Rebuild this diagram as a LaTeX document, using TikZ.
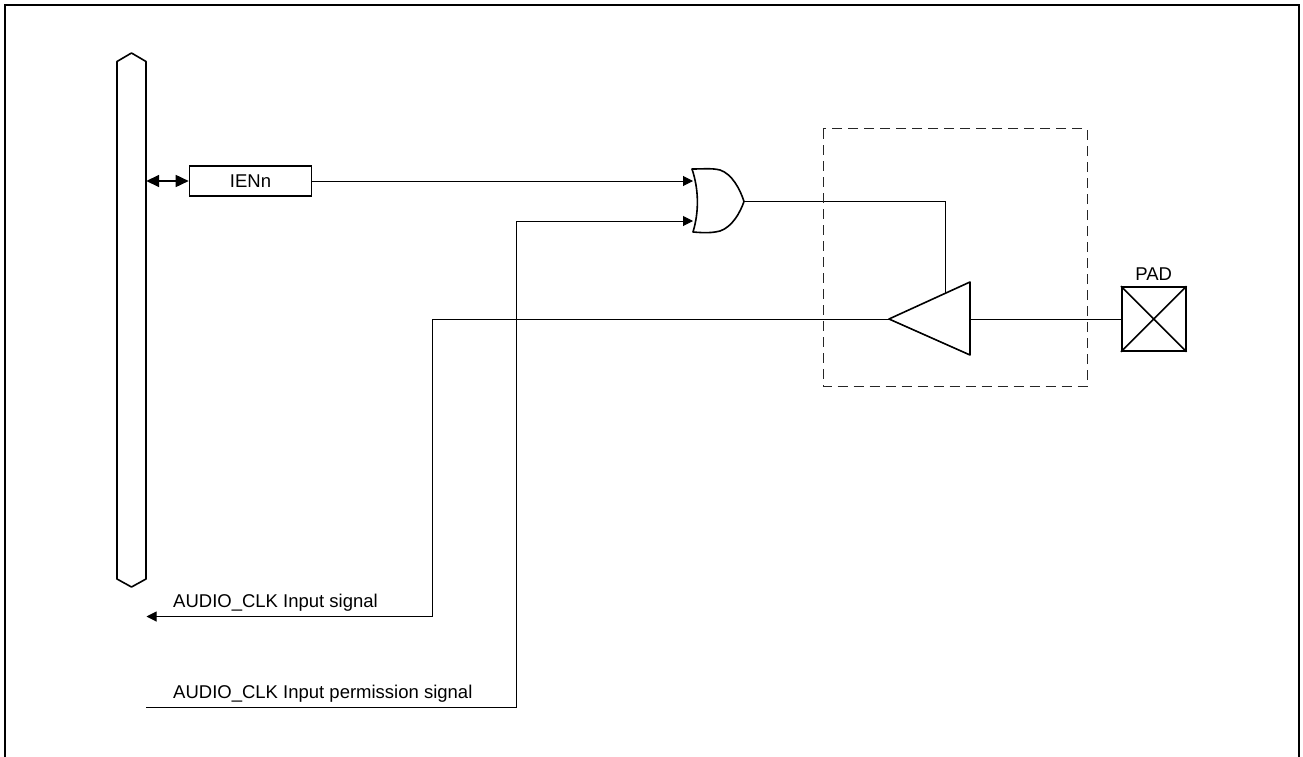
\documentclass[tikz,border=0pt]{standalone}
\usepackage{fontspec}
\setmainfont{Liberation Sans}
\usetikzlibrary{arrows.meta, positioning}
\tikzset{sig/.style={inner sep=0pt,font=\fontsize{18.5pt}{20pt}\selectfont},regbox/.style={sig,rectangle,draw,line width=1.6pt,align=center,minimum width=122pt,minimum height=30pt},padbox/.style={rectangle,draw,line width=1.6pt,inner sep=0pt,minimum size=64pt},line/.style={line width=1pt,-{Triangle[length=10pt,width=10pt]}},wire/.style={line width=1pt},outline/.style={line width=1.6pt,line join=round}}

\begin{document}
\begin{tikzpicture}[x=1pt,y=-1pt]
\useasboundingbox (0,0) rectangle (1303,757);
\draw[line width=2pt] (5,757) -- (5,5) -- (1299,5) -- (1299,757);
% bus
\node[minimum width=29pt,minimum height=530pt,inner sep=0pt] (bus) at (131.5,320) {};
\draw[outline] (117,61.5) -- (131.5,53) -- (146,61.5) -- (146,579) -- (131.5,587) -- (117,579) -- cycle;
\node[regbox] (ien) at (250.5,181) {IENn};
\draw[line width=1.6pt,{Triangle[length=13pt,width=12pt]}-{Triangle[length=13pt,width=12pt]}] (bus.east |- ien) -- (ien.west);
% or gate
\coordinate (ora) at (693,181);
\coordinate (orb) at (693,221);
\coordinate (orout) at (744,201.5);
\draw[outline] (692,169) .. controls (704,169) and (712,168) .. (720,170) .. controls (732,174) and (740,189) .. (744,201.5) .. controls (740,213) and (732,227) .. (720,231) .. controls (712,233) and (705,233) .. (693,232) .. controls (699,212) and (699,190) .. (692,169) -- cycle;
\draw[line] (ien.east) -- (ora);
% buffer
\coordinate (bufin) at (970,319);
\coordinate (bufout) at (889,319);
\coordinate (bufen) at (945,293);
\draw[outline] (970,282) -- (970,355) -- (889,319) -- cycle;
\draw[wire] (orout) -- (945,201.5) -- (bufen);
\draw[dash pattern=on 10pt off 6pt,line width=1pt,black!85] (823,129) rectangle (1087,386.5);
% pad
\node[padbox] (pad) at (1153.7,319) {};
\draw[line width=1.6pt] (pad.north west) -- (pad.south east);
\draw[line width=1.6pt] (pad.north east) -- (pad.south west);
\node[sig,above=6pt of pad] (padlbl) {PAD};
\draw[wire] (pad.west) -- (bufin);
% signals
\coordinate (sigin) at (146.5,616.5);
\coordinate (sigperm) at (146,707);
\draw[line] (bufout) -- (432,319) -- (432,616.5) -- (sigin);
\draw[line] (sigperm) -- (516,707) -- (516,221) -- (orb);
\node[sig,anchor=base west] (lblin) at (173,607) {AUDIO\_CLK Input signal};
\node[sig,anchor=base west] (lblperm) at (173,698) {AUDIO\_CLK Input permission signal};
\end{tikzpicture}
\end{document}
